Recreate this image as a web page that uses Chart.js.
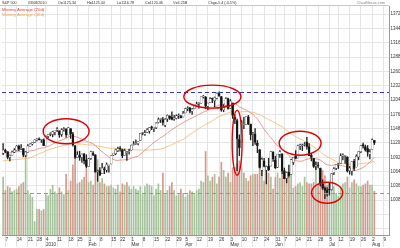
<!DOCTYPE html>
<html>
<head>
<meta charset="utf-8">
<script src="https://cdn.jsdelivr.net/npm/chart.js@4.4.1/dist/chart.umd.min.js"></script>
<style>
  html, body { margin: 0; padding: 0; background: #fff; }
  canvas { display: block; }
</style>
</head>
<body>
<canvas id="chart" width="400" height="248"></canvas>
<script>
// trading days (last six are empty future slots)
const dates = [
  '2009-12-04','2009-12-07','2009-12-08','2009-12-09','2009-12-10','2009-12-11','2009-12-14','2009-12-15','2009-12-16','2009-12-17','2009-12-18','2009-12-21','2009-12-22','2009-12-23','2009-12-24','2009-12-28','2009-12-29','2009-12-30','2009-12-31',
  '2010-01-04','2010-01-05','2010-01-06','2010-01-07','2010-01-08','2010-01-11','2010-01-12','2010-01-13','2010-01-14','2010-01-15','2010-01-19','2010-01-20','2010-01-21','2010-01-22','2010-01-25','2010-01-26','2010-01-27','2010-01-28','2010-01-29',
  '2010-02-01','2010-02-02','2010-02-03','2010-02-04','2010-02-05','2010-02-08','2010-02-09','2010-02-10','2010-02-11','2010-02-12','2010-02-16','2010-02-17','2010-02-18','2010-02-19','2010-02-22','2010-02-23','2010-02-24','2010-02-25','2010-02-26',
  '2010-03-01','2010-03-02','2010-03-03','2010-03-04','2010-03-05','2010-03-08','2010-03-09','2010-03-10','2010-03-11','2010-03-12','2010-03-15','2010-03-16','2010-03-17','2010-03-18','2010-03-19','2010-03-22','2010-03-23','2010-03-24','2010-03-25','2010-03-26','2010-03-29','2010-03-30','2010-03-31',
  '2010-04-01','2010-04-05','2010-04-06','2010-04-07','2010-04-08','2010-04-09','2010-04-12','2010-04-13','2010-04-14','2010-04-15','2010-04-16','2010-04-19','2010-04-20','2010-04-21','2010-04-22','2010-04-23','2010-04-26','2010-04-27','2010-04-28','2010-04-29','2010-04-30',
  '2010-05-03','2010-05-04','2010-05-05','2010-05-06','2010-05-07','2010-05-10','2010-05-11','2010-05-12','2010-05-13','2010-05-14','2010-05-17','2010-05-18','2010-05-19','2010-05-20','2010-05-21','2010-05-24','2010-05-25','2010-05-26','2010-05-27','2010-05-28',
  '2010-06-01','2010-06-02','2010-06-03','2010-06-04','2010-06-07','2010-06-08','2010-06-09','2010-06-10','2010-06-11','2010-06-14','2010-06-15','2010-06-16','2010-06-17','2010-06-18','2010-06-21','2010-06-22','2010-06-23','2010-06-24','2010-06-25','2010-06-28','2010-06-29','2010-06-30',
  '2010-07-01','2010-07-02','2010-07-06','2010-07-07','2010-07-08','2010-07-09','2010-07-12','2010-07-13','2010-07-14','2010-07-15','2010-07-16','2010-07-19','2010-07-20','2010-07-21','2010-07-22','2010-07-23','2010-07-26','2010-07-27','2010-07-28','2010-07-29','2010-07-30',
  '2010-08-02','2010-08-03','2010-08-04','2010-08-05','2010-08-06','2010-08-09','2010-08-10','2010-08-11'
];

const opens = [
  1100,1106,1103,1092,1096,1102,1106,1114,1108,1109,1096,1102,1114,1118,1121,1126,1128,1126,1126,
  1116,1133,1137,1137,1141,1145,1144,1137,1146,1147,1136,1148,1138,1115,1092,1096,1092,1098,1087,
  1074,1090,1100,1097,1064,1066,1060,1069,1067,1075,1079,1096,1099,1105,1110,1107,1096,1101,1103,
  1106,1117,1119,1119,1125,1139,1137,1141,1143,1151,1148,1150,1160,1166,1166,1155,1167,1173,1170,1167,1168,1173,1172,
  1171,1179,1187,1189,1182,1187,1194,1196,1198,1210,1210,1192,1199,1207,1203,1208,1217,1211,1185,1193,1207,
  1188,1198,1170,1164,1127,1122,1156,1156,1171,1157,1137,1138,1120,1107,1067,1085,1067,1075,1075,1102,
  1087,1073,1098,1099,1066,1051,1063,1059,1082,1095,1091,1114,1115,1117,1122,1113,1096,1090,1075,1077,1071,1040,
  1032,1028,1029,1029,1062,1071,1078,1080,1095,1094,1093,1066,1065,1084,1073,1093,1103,1117,1113,1109,1098,
  1108,1125
];
const highs = [
  1119,1108,1103,1097,1104,1109,1115,1116,1117,1109,1103,1117,1119,1121,1126,1128,1130,1127,1128,
  1134,1137,1140,1143,1145,1150,1144,1148,1150,1148,1150,1148,1141,1115,1103,1104,1099,1100,1097,
  1090,1104,1103,1097,1067,1072,1080,1073,1081,1077,1095,1100,1108,1112,1113,1108,1108,1103,1108,
  1116,1123,1126,1123,1139,1141,1145,1148,1150,1153,1150,1160,1169,1167,1170,1168,1175,1173,1181,1174,1175,1177,1174,
  1182,1188,1191,1190,1188,1194,1200,1199,1210,1213,1211,1198,1209,1208,1210,1218,1220,1211,1195,1209,1208,
  1205,1198,1175,1167,1136,1164,1170,1172,1174,1157,1141,1148,1125,1107,1090,1090,1075,1090,1103,1103,
  1094,1098,1105,1099,1071,1063,1077,1088,1092,1105,1116,1118,1118,1121,1131,1119,1100,1090,1083,1082,1071,1048,
  1034,1033,1043,1060,1072,1078,1080,1099,1099,1096,1093,1074,1083,1088,1097,1103,1115,1120,1116,1115,1107,
  1128,1125
];
const lows = [
  1097,1101,1089,1085,1096,1101,1106,1105,1107,1093,1093,1102,1114,1116,1121,1124,1126,1121,1115,
  1116,1130,1134,1132,1136,1142,1131,1133,1143,1131,1136,1129,1114,1090,1092,1086,1082,1079,1071,
  1074,1088,1095,1063,1045,1056,1060,1060,1063,1063,1079,1095,1097,1103,1104,1091,1096,1086,1098,
  1106,1116,1117,1116,1125,1136,1135,1140,1139,1146,1142,1148,1159,1160,1155,1152,1162,1166,1165,1164,1167,1168,1169,
  1171,1179,1183,1179,1176,1187,1194,1188,1198,1208,1187,1185,1199,1199,1191,1206,1211,1182,1181,1193,1186,
  1188,1168,1158,1066,1095,1122,1148,1156,1156,1126,1115,1117,1101,1071,1056,1073,1040,1066,1075,1084,
  1070,1072,1092,1060,1050,1042,1053,1059,1078,1089,1091,1107,1105,1114,1108,1095,1085,1072,1068,1071,1036,1029,
  1011,1016,1018,1028,1058,1068,1070,1080,1087,1080,1063,1059,1057,1066,1073,1087,1101,1110,1104,1094,1089,
  1108,1117
];
const closes = [
  1106,1103,1092,1096,1102,1106,1114,1108,1109,1096,1102,1114,1118,1121,1126,1128,1126,1126,1115,
  1133,1137,1137,1142,1145,1147,1136,1146,1148,1136,1150,1138,1116,1092,1097,1092,1098,1085,1074,
  1089,1103,1097,1063,1066,1057,1071,1068,1078,1076,1095,1100,1107,1109,1108,1095,1105,1103,1104,
  1116,1118,1119,1123,1139,1139,1140,1146,1150,1150,1151,1159,1166,1166,1160,1166,1174,1168,1166,1167,1173,1173,1169,
  1178,1187,1189,1182,1186,1194,1196,1197,1211,1212,1192,1198,1207,1206,1209,1217,1212,1184,1191,1207,1187,
  1202,1174,1166,1128,1111,1160,1156,1172,1157,1136,1137,1121,1115,1072,1088,1074,1074,1068,1103,1089,
  1071,1098,1103,1065,1050,1062,1056,1087,1092,1090,1115,1115,1116,1118,1113,1095,1092,1074,1077,1075,1041,1031,
  1027,1023,1028,1060,1070,1078,1079,1095,1095,1096,1065,1071,1083,1070,1094,1103,1115,1114,1106,1102,1102,
  1126,1120
];
// volume, billions of shares
const volumes = [
  4.3,3.3,3.6,3.5,3.2,3.3,3.4,3.6,3.8,3.9,6.1,3.3,3.0,2.8,1.0,1.9,1.9,1.8,1.9,
  3.0,2.9,3.4,3.7,3.2,3.1,3.5,3.2,3.0,4.5,3.3,4.0,5.2,6.1,3.8,3.9,4.1,4.3,4.9,
  3.9,4.0,3.7,5.3,5.6,3.9,4.2,3.8,3.6,3.6,3.7,3.5,3.4,3.7,3.2,3.8,3.7,3.9,3.6,
  3.4,3.6,3.4,3.3,3.6,3.0,3.6,3.8,3.7,3.6,2.9,3.4,3.8,3.3,4.6,3.0,3.3,3.6,3.9,3.3,2.9,3.0,3.4,
  3.1,2.8,3.0,3.3,3.2,3.0,3.3,3.4,4.0,3.9,6.2,4.4,4.0,4.3,4.5,3.8,4.3,5.4,4.8,4.3,4.6,
  3.9,5.0,5.0,5.3,5.5,5.0,4.6,4.2,4.0,4.4,4.5,4.5,4.5,5.7,5.8,4.0,5.1,4.6,4.3,3.4,
  4.3,4.6,4.2,4.6,4.3,4.6,4.3,4.5,3.5,3.6,3.8,3.9,3.6,4.3,3.9,3.8,3.8,3.9,5.4,3.8,4.9,4.8,
  4.4,3.7,3.8,4.0,3.6,3.1,2.9,3.6,3.8,3.9,4.3,3.5,3.9,4.1,3.8,3.6,3.6,3.7,3.8,4.0,3.7,
  3.7,3.25
];
const ma20 = [
  1099.2,1100.9,1100.8,1101.0,1101.1,1102.1,1103.1,1103.1,1103.0,1102.3,1102.7,1103.8,1104.4,1105.2,1105.9,1107.8,1109.3,1110.1,1110.4,
  1112.1,1113.6,1115.3,1117.8,1120.3,1122.5,1124.0,1125.6,1127.6,1129.0,1131.7,1133.5,1133.6,1132.3,1131.1,1129.4,1127.9,1125.8,1123.2,
  1121.9,1120.4,1118.4,1114.7,1110.9,1106.5,1102.7,1099.3,1095.9,1092.3,1090.3,1087.8,1086.2,1085.9,1086.7,1086.6,1087.2,1087.5,1088.4,
  1090.5,1092.0,1092.8,1094.1,1097.9,1101.5,1105.7,1109.4,1113.5,1117.1,1120.9,1124.1,1127.4,1130.3,1132.9,1135.8,1139.7,1142.9,1146.0,1149.2,1152.0,1154.8,1157.3,
  1160.0,1162.4,1164.9,1167.0,1169.0,1171.2,1173.5,1175.8,1178.4,1180.7,1182.0,1183.9,1186.0,1187.6,1189.6,1192.2,1194.4,1195.0,1195.9,1197.8,1198.2,
  1199.0,1198.2,1197.4,1194.5,1190.4,1188.6,1186.5,1184.6,1181.8,1179.0,1176.0,1171.7,1167.1,1160.3,1153.8,1146.9,1141.4,1135.3,1130.1,1125.2,
  1118.6,1114.8,1111.7,1108.5,1105.5,1100.6,1095.6,1091.3,1088.1,1085.8,1084.7,1084.4,1084.4,1086.7,1088.0,1089.0,1089.9,1090.2,1088.9,1088.2,1086.7,1083.4,
  1079.6,1077.5,1076.4,1076.3,1077.0,1076.5,1075.9,1076.1,1075.1,1074.2,1071.6,1069.3,1067.8,1066.5,1066.6,1068.1,1070.0,1071.9,1075.2,1078.7,1082.5,
  1087.6,1092.2
];
const ma40 = [
  1085.0,1085.8,1086.2,1086.8,1087.0,1087.3,1087.9,1088.2,1088.6,1089.0,1089.2,1090.1,1091.3,1092.8,1094.9,1096.4,1098.7,1100.7,1102.5,
  1104.6,1106.4,1108.1,1109.3,1110.6,1111.8,1113.0,1114.4,1115.3,1116.0,1117.0,1118.1,1118.7,1118.3,1118.1,1117.6,1117.8,1117.5,1116.7,
  1116.2,1116.2,1116.0,1115.0,1114.4,1113.4,1112.6,1111.7,1110.8,1110.0,1109.6,1109.7,1109.8,1109.7,1109.5,1108.8,1108.3,1107.7,1107.1,
  1106.9,1106.9,1106.6,1106.2,1106.3,1106.2,1106.1,1106.1,1106.4,1106.5,1106.6,1107.2,1107.6,1108.3,1109.4,1111.2,1113.1,1115.0,1116.7,1118.8,1121.3,1123.4,1125.0,
  1127.0,1130.1,1133.2,1136.3,1139.2,1142.4,1145.3,1148.3,1151.2,1154.0,1156.2,1158.4,1160.9,1163.6,1166.2,1169.1,1171.8,1173.5,1175.3,1177.5,1179.1,
  1180.7,1181.6,1182.2,1181.8,1180.8,1181.0,1181.2,1181.5,1181.3,1180.5,1179.9,1178.8,1177.3,1174.9,1173.0,1170.7,1168.2,1165.6,1163.9,1161.7,
  1158.8,1156.5,1154.5,1151.5,1147.9,1144.6,1141.0,1137.9,1134.9,1132.4,1130.3,1128.0,1125.8,1123.5,1120.9,1118.0,1115.7,1112.7,1109.5,1106.7,1102.7,1099.1,
  1095.6,1093.0,1090.9,1088.4,1086.3,1083.9,1082.0,1080.9,1079.9,1079.3,1078.0,1078.0,1077.9,1077.8,1078.3,1079.1,1079.4,1080.1,1080.9,1081.0,1081.0,
  1082.5,1084.3
];

const priceTicks = [1386,1372,1358,1344,1330,1316,1302,1288,1274,1260,1246,1232,1218,1204,1190,1176,1162,1148,1134,1120,1106,1092,1078,1064,1050,1036,1022,1008];
const gridOnlyTicks = [994,980,966,952];
const levels = [1219, 1022];                 // dashed resistance / support
const levelColors = ['#3232d6', '#8c8ce8'];
// highlighted areas: centre date, centre price, half width (days), half height (points)
const marks = [
  ['2010-01-15', 1143, 10.2, 24.5],
  ['2010-04-21', 1210.7, 12.7, 22.5],
  ['2010-05-06', 1120.6, 2.2, 63.7],
  ['2010-06-16', 1119.6, 9.3, 23.5],
  ['2010-07-02', 1022.7, 6.9, 20.6]
];
const headerItems = ['S&P 500', '03/08/2010', 'O=1125.34', 'H=1125.44', 'L=1116.78', 'C=1120.46', 'V=3.25B', 'Chg=-5.4 (-0.5%)'];
const siteName = 'ChartNexus.com';
const legendNames = ['Moving Average (20d)', 'Moving Average (40d)'];

const FONT = '"Liberation Sans", Arial, sans-serif';
const monthNames = ['Jan','Feb','Mar','Apr','May','Jun','Jul','Aug','Sep','Oct','Nov','Dec'];

// weekly tick labels: Monday's date, month (or year) under the first week of a month
const dayOf = s => new Date(s + 'T00:00:00Z');
let lastMonth = dayOf(dates[0]).getUTCMonth();
const weekLabels = dates.map((d, i) => {
  if (i === 0) return '';
  const t = dayOf(d), wd = t.getUTCDay();
  if (wd > dayOf(dates[i - 1]).getUTCDay()) return '';
  const monday = new Date(t.getTime() - (wd - 1) * 86400000);
  const lines = [String(monday.getUTCDate())];
  const m = t.getUTCMonth();
  if (m !== lastMonth) {
    lines.push(m === 0 ? String(t.getUTCFullYear()) : monthNames[m]);
    lastMonth = m;
  }
  return lines;
});

const upBody = closes.map((c, i) => c >= opens[i]);
const volColors = closes.map((c, i) => c >= (i ? closes[i - 1] : opens[i]) ? '#a6c29c' : '#d39a8b');

const overlay = {
  id: 'overlay',
  beforeDraw(chart) {
    const { ctx } = chart;
    ctx.save();
    ctx.fillStyle = '#fff';
    ctx.fillRect(0, 0, chart.width, chart.height);
    ctx.restore();
  },
  afterDatasetsDraw(chart) {
    const { ctx, chartArea: a, scales: { x, y } } = chart;
    ctx.save();
    ctx.beginPath();
    ctx.rect(a.left, a.top, a.right - a.left, a.bottom - a.top);
    ctx.clip();
    ctx.lineWidth = 1;
    ctx.setLineDash([4, 3]);
    levels.forEach((v, k) => {
      const py = Math.round(y.getPixelForValue(v)) + 0.5;
      ctx.strokeStyle = levelColors[k];
      ctx.beginPath();
      ctx.moveTo(a.left, py);
      ctx.lineTo(a.right, py);
      ctx.stroke();
    });
    ctx.setLineDash([]);
    ctx.strokeStyle = '#e00000';
    ctx.lineWidth = 1.4;
    marks.forEach(([d, p, dd, dp]) => {
      const i = dates.indexOf(d);
      const cx = x.getPixelForValue(i), cy = y.getPixelForValue(p);
      const rx = Math.abs(x.getPixelForValue(i + dd) - cx);
      const ry = Math.abs(y.getPixelForValue(p + dp) - cy);
      ctx.beginPath();
      ctx.ellipse(cx, cy, rx, ry, 0, 0, Math.PI * 2);
      ctx.stroke();
    });
    ctx.restore();
  },
  afterDraw(chart) {
    const { ctx, chartArea: a } = chart;
    ctx.save();
    ctx.strokeStyle = '#c8c8c8';
    ctx.lineWidth = 1;
    ctx.beginPath();
    ctx.moveTo(0, a.top - 0.5);
    ctx.lineTo(a.right, a.top - 0.5);
    ctx.stroke();

    ctx.textBaseline = 'middle';
    ctx.fillStyle = '#333';
    ctx.font = '3.7px ' + FONT;
    const hx = [2, 28, 58, 87, 117, 145, 173, 208];
    headerItems.forEach((t, i) => ctx.fillText(t, hx[i], 3.2));
    ctx.textAlign = 'right';
    ctx.fillStyle = '#888';
    ctx.font = '3.8px ' + FONT;
    ctx.fillText(siteName, 385, 3.2);

    ctx.textAlign = 'left';
    ctx.font = '4.3px ' + FONT;
    ctx.fillStyle = '#e0403a';
    ctx.fillText(legendNames[0], 2, 10);
    ctx.fillStyle = '#eea23a';
    ctx.fillText(legendNames[1], 2, 15);
    ctx.restore();
  }
};

new Chart(document.getElementById('chart'), {
  type: 'bar',
  data: {
    labels: dates,
    datasets: [
      {
        type: 'bar', label: 'Volume', data: volumes, yAxisID: 'yv',
        backgroundColor: volColors, barThickness: 1, grouped: false, order: 9
      },
      {
        type: 'line', label: legendNames[1], data: ma40, yAxisID: 'y',
        borderColor: '#f3b865', borderWidth: 0.8, pointRadius: 0, order: 6
      },
      {
        type: 'line', label: legendNames[0], data: ma20, yAxisID: 'y',
        borderColor: '#e66a6a', borderWidth: 0.7, pointRadius: 0, order: 5
      },
      {
        type: 'bar', label: 'Range', data: lows.map((l, i) => [l, highs[i]]), yAxisID: 'y',
        backgroundColor: '#222', barThickness: 0.7, grouped: false, order: 3
      },
      {
        type: 'bar', label: 'Body', data: opens.map((o, i) => [o, closes[i]]), yAxisID: 'y',
        backgroundColor: upBody.map(u => u ? '#ffffff' : '#111'),
        borderColor: '#333', borderWidth: 0.45, borderSkipped: false, minBarLength: 0.8,
        barThickness: 2, grouped: false, order: 2
      }
    ]
  },
  options: {
    responsive: false,
    animation: false,
    devicePixelRatio: 1,
    events: [],
    layout: { padding: { top: 6, left: 2, right: 0, bottom: 0 } },
    plugins: { legend: { display: false }, tooltip: { enabled: false } },
    scales: {
      x: {
        offset: true,
        grid: {
          offset: false,
          tickLength: 12,
          color: ctx => weekLabels[ctx.index] ? '#e3e3e3' : 'rgba(0,0,0,0)'
        },
        border: { color: '#999' },
        ticks: {
          autoSkip: false, maxRotation: 0, minRotation: 0, align: 'start', padding: -10,
          color: '#333', font: { family: FONT, size: 4.6, lineHeight: 1.05 },
          callback: (v, i) => weekLabels[i]
        },
        afterFit: s => { s.height = 13; }
      },
      y: {
        position: 'right',
        min: 940, max: 1388,
        afterBuildTicks: s => {
          s.ticks = priceTicks.concat(gridOnlyTicks).sort((p, q) => p - q).map(v => ({ value: v }));
        },
        grid: { color: '#e6e6e6', drawTicks: false },
        border: { color: '#999' },
        ticks: {
          padding: 1.5, color: '#333', font: { family: FONT, size: 4.5 },
          callback: v => priceTicks.includes(v) ? String(v) : ''
        },
        afterFit: s => { s.width = 11; }
      },
      yv: { display: false, min: 0, max: 17 }
    }
  },
  plugins: [overlay]
});
</script>
</body>
</html>
